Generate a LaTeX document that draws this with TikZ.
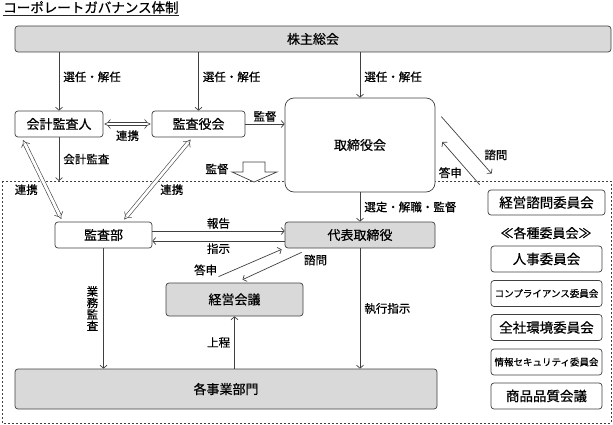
\documentclass[tikz,border=0pt]{standalone}
\usepackage{fontspec}
\setmainfont{Noto Sans CJK JP}[FakeBold = 0.6]
\usetikzlibrary{arrows.meta}

\begin{document}
\begin{tikzpicture}[x = 1pt, y = -1pt, > = {Straight Barb[length = 3pt, width = 7pt]}, line width = 0.7pt, color = black!75,
	every node/.append style = {text = black},
	box/.style = {draw, fill = white, rounded corners = 3pt, inner sep = 0pt, font = \fontsize{13}{13}\selectfont},
	graybox/.style = {box, fill = black!15},
	cbox/.style = {box, minimum width = 111pt, minimum height = 26pt, font = \fontsize{13.5}{14}\selectfont},
	smallcbox/.style = {cbox, font = \fontsize{9.5}{10}\selectfont},
	lbl/.style = {inner sep = 1pt, font = \fontsize{11.5}{12}\selectfont},
	dbl/.style = {double, double distance = 2.8pt, line width = 0.6pt, {Implies[scale = 1.4]}-{Implies[scale = 1.4]}, shorten < = 3pt, shorten > = 3pt},
	frame/.style = {dash pattern = on 2pt off 2pt, line width = 0.7pt}]

\useasboundingbox (0, 0) rectangle (613, 425);

\node [anchor = south west, inner sep = 0pt, font = \fontsize{13.5}{14}\selectfont] (title) at (3, 14) {コーポレートガバナンス体制};
\draw [black!85] ([yshift = -1.5pt]title.south west) -- ([yshift = -1.5pt]title.south east);

\draw [frame] (2, 181) rectangle (611, 423);
\coordinate (frametop) at (0, 181);

\node [graybox, minimum width = 596pt, minimum height = 26pt] (share) at (313, 39) {株主総会};

\node [box, minimum width = 88pt, minimum height = 26pt] (audfirm) at (59, 124) {会計監査人};
\node [box, minimum width = 93pt, minimum height = 26pt] (kansayaku) at (198.5, 124) {監査役会};
\node [box, rounded corners = 9pt, minimum width = 150pt, minimum height = 94pt] (board) at (360, 145) {取締役会};

\node [box, minimum width = 117pt, minimum height = 25pt, font = \fontsize{13.5}{14}\selectfont] (advisory) at (546.5, 202.5) {経営諮問委員会};

\node [box, minimum width = 97pt, minimum height = 26pt] (auditdept) at (103.5, 235) {監査部};
\node [graybox, minimum width = 150pt, minimum height = 26pt] (ceo) at (360, 235) {代表取締役};
\node [graybox, minimum width = 137pt, minimum height = 33pt] (mgmt) at (234.5, 299.5) {経営会議};
\node [graybox, minimum width = 422pt, minimum height = 40pt] (divisions) at (226, 389) {各事業部門};

\node [inner sep = 0pt, font = \fontsize{13}{13}\selectfont] (kakushu) at (546, 233) {≪各種委員会≫};
\node [cbox] (jinji) at (546.5, 259) {人事委員会};
\node [smallcbox] (compliance) at (546.5, 293.5) {コンプライアンス委員会};
\node [cbox] (kankyo) at (546.5, 327.5) {全社環境委員会};
\node [smallcbox] (security) at (546.5, 362) {情報セキュリティ委員会};
\node [cbox] (hinshitsu) at (546.5, 396) {商品品質会議};

\draw [->] (share.south -| audfirm) -- node [lbl, right = 3pt, pos = 0.42] {選任・解任} (audfirm.north);
\draw [->] (share.south -| kansayaku) -- node [lbl, right = 3pt, pos = 0.42] {選任・解任} (kansayaku.north);
\draw [->] (share.south -| board) -- node [lbl, right = 3pt, pos = 0.54] {選任・解任} (board.north);

\draw [dbl, shorten < = 1pt, shorten > = 1pt] (audfirm.east) -- node [lbl, below = 5pt] {連携} (kansayaku.west);
\draw [->] (kansayaku.east) -- node [lbl, above = 1pt] {監督} (kansayaku.east -| board.west);
\draw [->] (audfirm.south) -- node [lbl, right = 3pt] {会計監査} (audfirm.south |- frametop);

\draw [dbl] ([xshift = 7pt]audfirm.south west) -- node [lbl, pos = 0.62, left = 8pt] {連携} ([xshift = 8pt]auditdept.north west);
\draw [dbl] ([xshift = -6pt]kansayaku.south) -- node [lbl, pos = 0.62, right = 10pt] {連携} ([xshift = -30pt]auditdept.north east);

\draw [fill = white] (243, 162) -- (265, 162) -- (265, 172) -- (277, 172) -- (254, 182) -- (232, 172) -- (243, 172) -- cycle;
\node [lbl] (kantoku) at (217, 169) {監督};

\draw [->] (board.south) -- node [lbl, right = 3pt] {選定・解職・監督} (ceo.north);

\draw [->] ([yshift = 4pt]auditdept.east) -- node [lbl, above = 1pt] {報告} ([yshift = 4pt]auditdept.east -| ceo.west);
\draw [->] ([yshift = -6pt]auditdept.east -| ceo.west) -- node [lbl, below = 1pt] {指示} ([yshift = -6pt]auditdept.east);

\draw [->] ([xshift = -16pt, yshift = 6pt]mgmt.north) node [lbl, anchor = south east] {答申} -- ([xshift = -3pt, yshift = -1pt]ceo.south west);
\draw [->] ([xshift = 17pt, yshift = -4pt]ceo.south west) node [lbl, anchor = north west, inner sep = 2pt] {諮問} -- ([xshift = 8pt, yshift = 3pt]mgmt.north);

\draw [->] (divisions.north -| mgmt) -- node [lbl, left = 3pt] {上程} (mgmt.south);
\draw [->] (auditdept.south) -- node [lbl, left = 4pt, align = center, font = \fontsize{11.5}{11.5}\selectfont] {業\\務\\監\\査} (auditdept.south |- divisions.north);
\draw [->] (ceo.south) -- node [lbl, right = 3pt] {執行指示} (ceo.south |- divisions.north);

\draw [->] ([xshift = 6pt, yshift = -19pt]board.north east) -- node [lbl, pos = 0.67, right = 8pt] {諮問} ([xshift = 4pt, yshift = 16pt]advisory.north west);
\draw [->] ([xshift = -8pt, yshift = 5pt]advisory.north west) -- node [lbl, pos = 0.28, left = 6pt] {答申} ([xshift = 7pt, yshift = 3pt]board.east);

\end{tikzpicture}
\end{document}
